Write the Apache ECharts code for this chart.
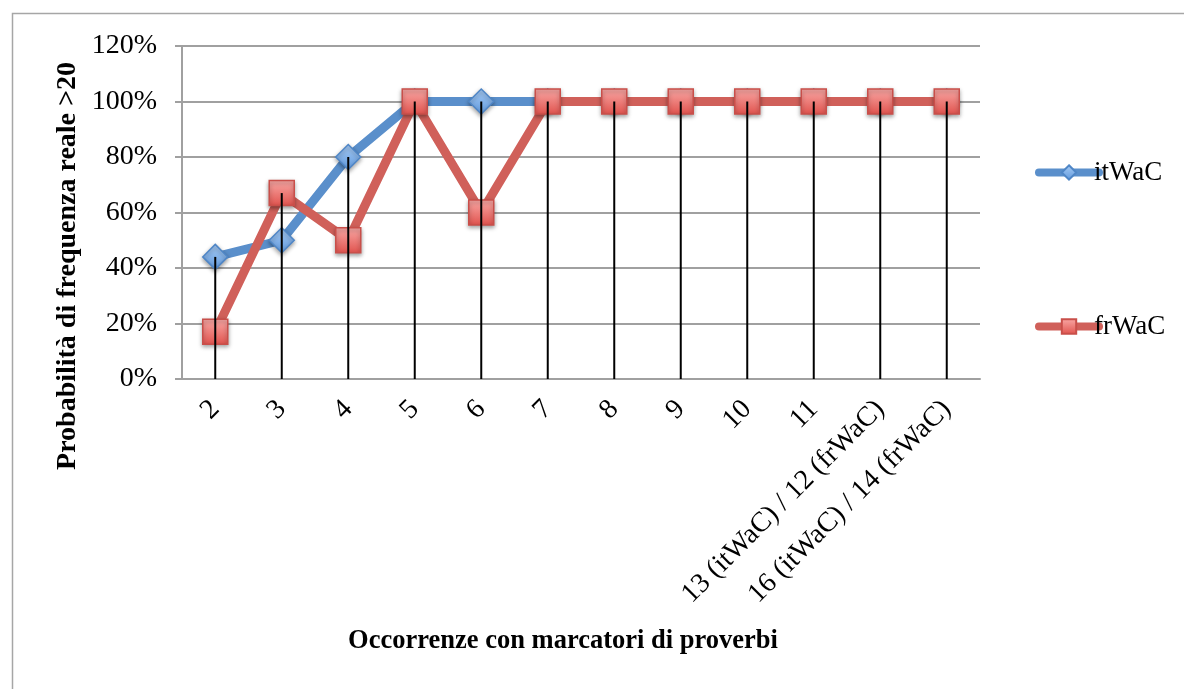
<!DOCTYPE html>
<html><head><meta charset="utf-8">
<script src="https://cdn.jsdelivr.net/npm/echarts@6/dist/echarts.min.js"></script>
<style>html,body{margin:0;padding:0;background:#fff;}#c{width:1184px;height:689px;}</style>
</head><body><div id="c"></div>
<script>
const categories = ['2','3','4','5','6','7','8','9','10','11','13 (itWaC) / 12 (frWaC)','16 (itWaC) / 14 (frWaC)'];
const itWaC = [44, 50, 80, 100, 100, 100, 100, 100, 100, 100, 100, 100];
const frWaC = [17, 67, 50, 100, 60, 100, 100, 100, 100, 100, 100, 100];
const yTicks = [0, 20, 40, 60, 80, 100, 120];
const xTitle = 'Occorrenze con marcatori di proverbi';
const yTitle = 'Probabilità di frequenza reale >20';
const dropLines = itWaC.map((v, i) => Math.max(v, frWaC[i]));

const FONT = 'Liberation Serif';
const chart = echarts.init(document.getElementById('c'));
chart.setOption({
  animation: false,
  backgroundColor: '#fff',
  graphic: [
    {type: 'rect', left: 10, top: 11, shape: {width: 1200, height: 700},
     style: {fill: 'none', stroke: '#a6a6a6', lineWidth: 1.5}, silent: true},
    {type: 'text', x: 563, y: 641, silent: true,
     style: {text: xTitle, font: 'bold 26.5px "Liberation Serif"', fill: '#000', textAlign: 'center', textVerticalAlign: 'middle'}},
    {type: 'text', x: 68, y: 266, rotation: Math.PI / 2, silent: true,
     style: {text: yTitle, font: 'bold 28px "Liberation Serif"', fill: '#000', textAlign: 'center', textVerticalAlign: 'middle'}}
  ],
  grid: {left: 182, right: 204, top: 46, bottom: 310},
  legend: {
    orient: 'vertical', left: 1030, top: 154, itemWidth: 60, itemHeight: 18, itemGap: 127,
    lineStyle: {width: 8, cap: 'round'},
    textStyle: {fontFamily: FONT, fontSize: 27, color: '#000', padding: [0, 0, 0, -10]},
    data: ['itWaC', 'frWaC']
  },
  xAxis: {
    type: 'category', data: categories, boundaryGap: true,
    axisLine: {lineStyle: {color: '#a0a0a0', width: 2}},
    axisTick: {show: false},
    axisLabel: {rotate: 45, fontFamily: FONT, fontSize: 28, color: '#000', margin: 26, interval: 0}
  },
  yAxis: {
    type: 'value', min: 0, max: 120, interval: 20,
    axisLine: {show: true, lineStyle: {color: '#a0a0a0', width: 2}},
    axisTick: {show: true, length: 7, lineStyle: {color: '#a0a0a0', width: 2}},
    axisLabel: {formatter: v => yTicks.includes(v) ? v + '%' : '', fontFamily: FONT, fontSize: 28, color: '#000', margin: 25},
    splitLine: {lineStyle: {color: '#a0a0a0', width: 2}}
  },
  series: [
    {
      name: 'itWaC', type: 'line', data: itWaC, z: 2,
      lineStyle: {color: '#5a8fcb', width: 9}, itemStyle: {
        color: new echarts.graphic.LinearGradient(0, 0, 0, 1, [{offset: 0, color: '#a9cdf6'}, {offset: 1, color: '#5f98dc'}]),
        borderColor: '#4f86c6', borderWidth: 1.5, shadowColor: 'rgba(0,0,0,0.35)', shadowBlur: 4, shadowOffsetY: 2
      },
      symbol: 'diamond', symbolSize: 25, showSymbol: true
    },
    {
      name: 'frWaC', type: 'line', data: frWaC, z: 3,
      lineStyle: {color: '#d0605a', width: 9}, itemStyle: {
        color: new echarts.graphic.LinearGradient(0, 0, 0, 1, [{offset: 0, color: '#f9a9a6'}, {offset: 1, color: '#e0524d'}]),
        borderColor: '#c94f4a', borderWidth: 1.5, shadowColor: 'rgba(0,0,0,0.35)', shadowBlur: 4, shadowOffsetY: 2
      },
      symbol: 'rect', symbolSize: 25, showSymbol: true
    },
    {
      name: 'drop', type: 'bar', data: dropLines, barWidth: 2, z: 5, silent: true,
      itemStyle: {color: '#000'}
    }
  ]
});
</script></body></html>
